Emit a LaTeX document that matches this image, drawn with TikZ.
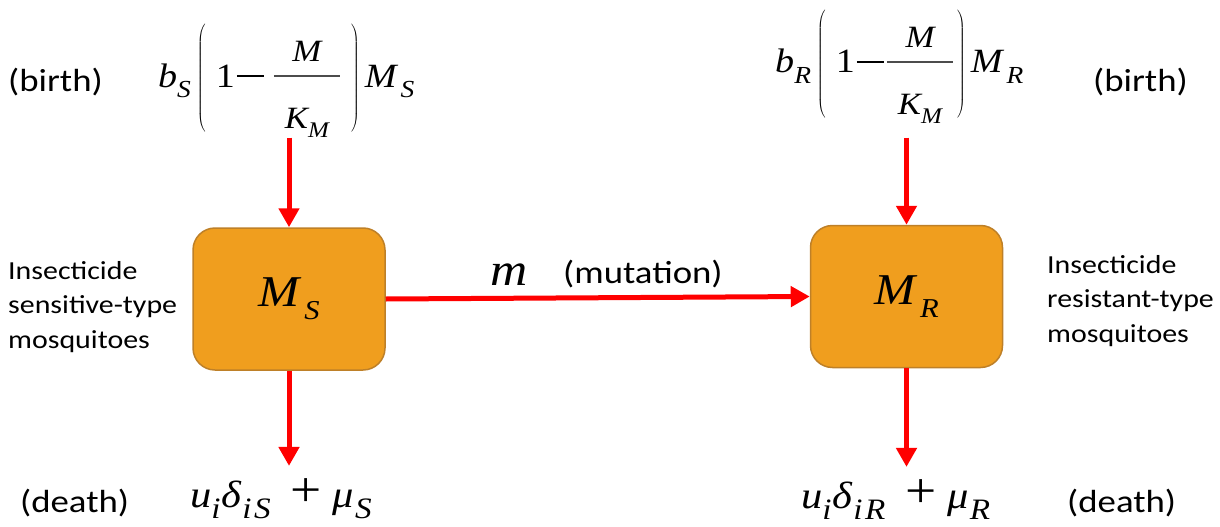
\documentclass[tikz,border=0pt]{standalone}
\usepackage{fontspec}
\usepackage{graphicx}
\usetikzlibrary{arrows.meta}
\setmainfont{Carlito}[FakeStretch=1.15]
\newfontfamily\tnr{LiberationSerif}[Extension=.ttf, UprightFont=*-Regular, ItalicFont=*-Italic, FakeStretch=1.12]
\newcommand\fs[1]{\fontsize{#1}{#1}\selectfont}
\newcommand\vi[1]{{\tnr\itshape #1}}
\newcommand\lo[2][0.72]{\raisebox{-0.3em}{\scalebox{#1}{\vi{#2}}}}
\newcommand\lpar{\raisebox{2.5pt}{$\left(\rule[-46pt]{0pt}{108pt}\right.$}}
\newcommand\rpar{\raisebox{2.5pt}{$\left.\rule[-46pt]{0pt}{108pt}\right)$}}
\newcommand\mminus{\raisebox{10pt}{\rule{27pt}{1.6pt}}}
\newcommand\myfrac[3]{%
  \makebox[0pt][l]{\raisebox{10pt}{\color{black!70}\rule{#1}{1.8pt}}}%
  \makebox[0pt][l]{\makebox[#1]{\raisebox{25pt}{#2}}}%
  \makebox[#1]{\raisebox{-41pt}{#3}}}
% #1 subscript letter, #2 extra space around the fraction
\newcommand\birthterm[2]{\fs{34}\vi{b}\lo{#1}\kern6pt\lpar\kern9pt{\tnr 1}\kern2pt\mminus\kern#2\myfrac{66pt}{\fs{31}\vi{M}}{\fs{31}\vi{K}\lo{M}}\kern#2\rpar\kern5pt\vi{M}\kern4pt\lo{#1}}
\newcommand\deathterm[1]{\fs{38}\vi{u}\lo[0.78]{i}\kern1pt\vi{δ}\kern1pt\lo[0.78]{i\kern3pt#1}\kern20pt\raisebox{1pt}{\scalebox{1.3}{\tnr +}}\kern11pt\vi{μ}\kern1pt\lo[0.78]{#1}}
\definecolor{boxfill}{RGB}{240,158,30}
\definecolor{boxline}{RGB}{190,128,40}
\tikzset{
  popbox/.style={draw=boxline, line width=1.5pt, fill=boxfill, rounded corners=22pt,
    minimum width=192pt, minimum height=142pt, inner sep=0pt},
  arr/.style={draw=red, line width=5pt, -{Triangle[width=20pt,length=19pt]}},
  lab/.style={inner sep=0pt, font=\fs{32}},
  side/.style={inner sep=0pt, align=left, font=\fontsize{26}{34.5}\selectfont},
  formula/.style={inner sep=0pt, anchor=base west}
}
\begin{document}
\begin{tikzpicture}[x=1pt,y=-1pt]
\useasboundingbox (0,0) rectangle (1220,527);
% boxes
\node[popbox] (MS) at (289,299) {\fs{44}\vi{M}\kern5pt\lo[0.62]{S}};
\node[popbox] (MR) at (906.5,296.5) {\fs{44}\vi{M}\kern5pt\lo[0.62]{R}};
% birth formulas
\node[formula] (bS) at (158,87) {\birthterm{S}{10pt}};
\node[formula] (bR) at (775,73) {\birthterm{R}{3pt}};
% death formulas
\node[formula] (dS) at (190,507) {\deathterm{S}};
\node[formula] (dR) at (801,508) {\deathterm{R}};
% labels
\node[lab, anchor=base west] (birthL) at (8,92) {(birth)};
\node[lab, anchor=base west] (birthR) at (1093,92) {(birth)};
\node[lab, anchor=base west] (deathL) at (20,512) {(death)};
\node[lab, anchor=base west] (deathR) at (1067,512) {(death)};
\node[side, anchor=base west] (sideL) at (8,348) {Insecticide\\sensitive-type\\mosquitoes};
\node[side, anchor=base west] (sideR) at (1047,342) {Insecticide\\resistant-type\\mosquitoes};
\node[inner sep=0pt, anchor=base west] (m) at (490,285) {\fs{46}\vi{m}};
\node[lab, anchor=base west] (mut) at (563,283) {(mutation)};
% connectors
\draw[arr] (bS.south -| MS.north) -- (MS.north);
\draw[arr, shorten <=14pt] (bR.south -| MR.north) -- (MR.north);
\draw[arr, shorten >=12pt] (MS.south) -- (MS.south |- dS.north);
\draw[arr, shorten >=12pt] (MR.south) -- (MR.south |- dR.north);
\draw[arr] (MS.east) -- (MR.west);
\end{tikzpicture}
\end{document}
